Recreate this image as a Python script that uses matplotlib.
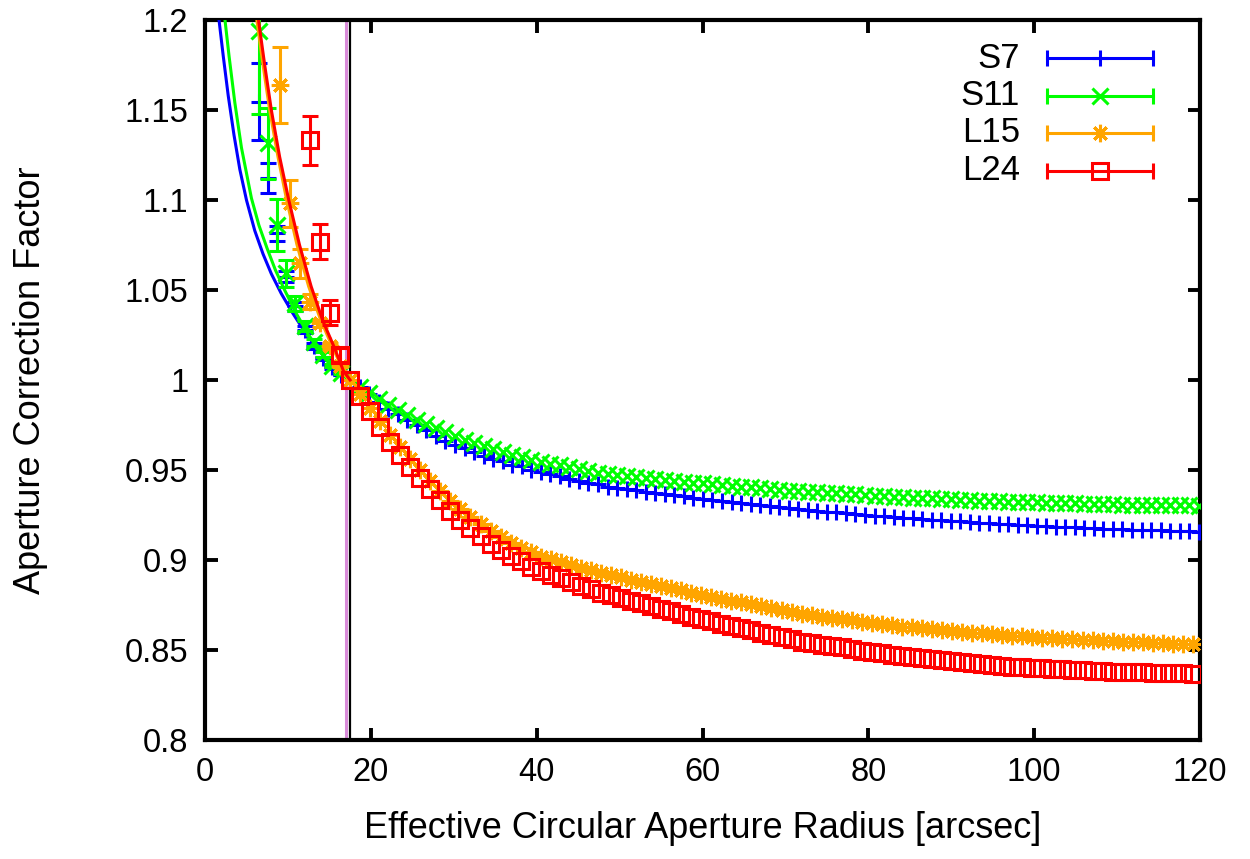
import numpy as np
import matplotlib
matplotlib.use("Agg")
import matplotlib.pyplot as plt

plt.rcParams['font.family'] = ['Liberation Sans', 'DejaVu Sans']

# ---------------- data ----------------
series_names = ["S7", "S11", "L15", "L24"]
series_colors = ["#0000ff", "#00ff00", "#ffa500", "#ff0000"]

# x grids (effective radius, arcsec)
x_left_S = [6.5, 7.6, 8.7, 9.8, 10.9, 12.0, 13.1, 14.2, 15.3, 16.4]
x_right_S_start, x_right_S_step = 17.5, 1.15
x_left_L15 = [9.03, 10.24, 11.45, 12.66, 13.87, 15.08, 16.29]
x_left_L24 = [12.66, 13.87, 15.08, 16.29]
x_right_L_start, x_right_L_step = 17.5, 1.21

# points inside the normalisation radius (with error bars)
S7_left = [1.1546, 1.112, 1.0815, 1.0574, 1.041, 1.028, 1.019, 1.012, 1.007, 1.003]
S7_left_err = [0.0213, 0.0083, 0.0042, 0.003, 0.0025, 0.002, 0.0015, 0.001, 0.001, 0.0005]
S11_left = [1.194, 1.1315, 1.086, 1.0593, 1.0426, 1.030, 1.021, 1.014, 1.008, 1.004]
S11_left_err = [0.046, 0.0197, 0.0145, 0.0074, 0.004, 0.003, 0.002, 0.0015, 0.001, 0.0005]
L15_left = [1.1639, 1.0981, 1.0648, 1.0435, 1.0315, 1.019, 1.008]
L15_left_err = [0.0209, 0.013, 0.0079, 0.004, 0.002, 0.0015, 0.001]
L24_left = [1.1333, 1.0769, 1.0374, 1.0139]
L24_left_err = [0.0136, 0.0095, 0.0069, 0.004]

# points from the normalisation radius outwards
S7_right = [1.000, 0.996, 0.992, 0.988, 0.984, 0.981, 0.978, 0.975, 0.972, 0.969,
            0.966, 0.964, 0.962, 0.960, 0.958, 0.956, 0.955, 0.953, 0.952, 0.950,
            0.949, 0.948, 0.9465, 0.945, 0.944, 0.943, 0.942, 0.9407, 0.9400, 0.9393,
            0.9387, 0.9380, 0.9373, 0.9367, 0.9360, 0.9353, 0.9347, 0.9340, 0.9334, 0.9328,
            0.9323, 0.9317, 0.9311, 0.9305, 0.9300, 0.9294, 0.9288, 0.9282, 0.9277, 0.9273,
            0.9269, 0.9264, 0.9260, 0.9256, 0.9252, 0.9247, 0.9243, 0.9239, 0.9234, 0.9231,
            0.9228, 0.9224, 0.9221, 0.9218, 0.9214, 0.9211, 0.9208, 0.9204, 0.9201, 0.9198,
            0.9196, 0.9193, 0.9191, 0.9189, 0.9186, 0.9184, 0.9181, 0.9179, 0.9176, 0.9174,
            0.9173, 0.9171, 0.9169, 0.9168, 0.9166, 0.9164, 0.9162, 0.9161, 0.9159, 0.9157]
S11_right = [1.000, 0.9963, 0.9926, 0.9893, 0.9861, 0.9832, 0.9804, 0.9779, 0.9756, 0.9733,
             0.9710, 0.9688, 0.9669, 0.9651, 0.9632, 0.9614, 0.9599, 0.9585, 0.9572, 0.9558,
             0.9546, 0.9536, 0.9526, 0.9515, 0.9505, 0.9495, 0.9485, 0.9477, 0.9472, 0.9467,
             0.9462, 0.9456, 0.9451, 0.9446, 0.9440, 0.9435, 0.9430, 0.9425, 0.9421, 0.9416,
             0.9412, 0.9408, 0.9403, 0.9399, 0.9395, 0.9390, 0.9386, 0.9382, 0.9378, 0.9375,
             0.9373, 0.9370, 0.9367, 0.9364, 0.9361, 0.9358, 0.9355, 0.9352, 0.9350, 0.9347,
             0.9345, 0.9342, 0.9340, 0.9338, 0.9335, 0.9333, 0.9330, 0.9328, 0.9326, 0.9324,
             0.9322, 0.9321, 0.9320, 0.9318, 0.9317, 0.9315, 0.9314, 0.9312, 0.9311, 0.9310,
             0.9309, 0.9308, 0.9307, 0.9307, 0.9306, 0.9305, 0.9304, 0.9303, 0.9303, 0.9302]
L15_right = [1.000, 0.9923, 0.9845, 0.9770, 0.9695, 0.9628, 0.9563, 0.9500, 0.9437, 0.9381,
             0.9328, 0.9282, 0.9241, 0.9200, 0.9159, 0.9125, 0.9097, 0.9069, 0.9042, 0.9019,
             0.9004, 0.8989, 0.8974, 0.8958, 0.8943, 0.8928, 0.8915, 0.8903, 0.8891, 0.8879,
             0.8867, 0.8855, 0.8843, 0.8831, 0.8819, 0.8807, 0.8796, 0.8785, 0.8775, 0.8764,
             0.8753, 0.8743, 0.8732, 0.8722, 0.8711, 0.8700, 0.8693, 0.8686, 0.8679, 0.8672,
             0.8665, 0.8658, 0.8651, 0.8644, 0.8637, 0.8630, 0.8625, 0.8620, 0.8616, 0.8611,
             0.8606, 0.8601, 0.8597, 0.8592, 0.8587, 0.8583, 0.8579, 0.8576, 0.8573, 0.8569,
             0.8566, 0.8563, 0.8559, 0.8556, 0.8553, 0.8550, 0.8548, 0.8546, 0.8544, 0.8542,
             0.8540, 0.8537, 0.8535, 0.8533, 0.8531]
L24_right = [1.000, 0.9913, 0.9826, 0.9741, 0.9656, 0.9586, 0.9518, 0.9455, 0.9392, 0.9331,
             0.9270, 0.9221, 0.9177, 0.9134, 0.9090, 0.9054, 0.9024, 0.8993, 0.8963, 0.8937,
             0.8917, 0.8898, 0.8878, 0.8858, 0.8839, 0.8819, 0.8803, 0.8789, 0.8774, 0.8759,
             0.8745, 0.8730, 0.8716, 0.8701, 0.8686, 0.8672, 0.8659, 0.8647, 0.8634, 0.8622,
             0.8609, 0.8597, 0.8584, 0.8572, 0.8559, 0.8547, 0.8538, 0.8530, 0.8522, 0.8514,
             0.8506, 0.8497, 0.8489, 0.8481, 0.8473, 0.8465, 0.8459, 0.8454, 0.8448, 0.8443,
             0.8437, 0.8432, 0.8426, 0.8420, 0.8415, 0.8410, 0.8407, 0.8404, 0.8401, 0.8398,
             0.8396, 0.8393, 0.8390, 0.8387, 0.8384, 0.8382, 0.8380, 0.8379, 0.8377, 0.8376,
             0.8374, 0.8373, 0.8371, 0.8370, 0.8369]

# model curves inside the normalisation radius
S7_fit_x = [1.69, 2.2, 2.8, 3.5, 4.2, 5.0, 6.0, 7.0, 8.0, 9.2, 10.6, 12.0, 13.6, 15.5, 17.5]
S7_fit_y = [1.200, 1.180, 1.158, 1.136, 1.117, 1.100, 1.083, 1.070, 1.059, 1.048, 1.037, 1.027, 1.017, 1.008, 1.000]
S11_fit_x = [2.41, 2.9, 3.6, 4.4, 5.6, 6.5, 7.5, 8.5, 9.6, 11.0, 12.5, 14.0, 15.7, 17.5]
S11_fit_y = [1.200, 1.180, 1.154, 1.129, 1.101, 1.086, 1.073, 1.061, 1.050, 1.037, 1.025, 1.015, 1.007, 1.000]
L15_fit_x = [6.25, 7.0, 7.8, 8.8, 9.85, 11.1, 12.5, 13.9, 15.3, 16.4, 17.5]
L15_fit_y = [1.200, 1.175, 1.150, 1.124, 1.100, 1.075, 1.052, 1.034, 1.019, 1.008, 1.000]
L24_fit_x = [6.45, 7.2, 8.0, 9.0, 10.1, 11.4, 12.8, 14.2, 15.6, 16.7, 17.5]
L24_fit_y = [1.200, 1.175, 1.150, 1.124, 1.100, 1.075, 1.052, 1.033, 1.018, 1.005, 1.000]

norm_radius_black = 17.45
norm_radius_violet = 17.05

xticks = [0, 20, 40, 60, 80, 100, 120]
yticks = [0.8, 0.85, 0.9, 0.95, 1.0, 1.05, 1.1, 1.15, 1.2]
ytick_labels = ["0.8", "0.85", "0.9", "0.95", "1", "1.05", "1.1", "1.15", "1.2"]

# ---------------- plot ----------------
fig = plt.figure(figsize=(12.5, 8.59), dpi=100)
ax = fig.add_axes([205 / 1250, 1 - 740 / 859, 995 / 1250, 720 / 859])

ax.axvline(norm_radius_violet, color="#d98bd9", lw=2.2, zorder=1)
ax.axvline(norm_radius_black, color="black", lw=1.6, zorder=1)

asterisk = (8, 2, 0)
markers = ["+", "x", asterisk, "s"]
msizes = [12, 11.5, 12.5, 11.5]

lefts = [(x_left_S, S7_left, S7_left_err), (x_left_S, S11_left, S11_left_err),
         (x_left_L15, L15_left, L15_left_err), (x_left_L24, L24_left, L24_left_err)]
rights = [S7_right, S11_right, L15_right, L24_right]
grids = [(x_right_S_start, x_right_S_step), (x_right_S_start, x_right_S_step),
         (x_right_L_start, x_right_L_step), (x_right_L_start, x_right_L_step)]
fits = [(S7_fit_x, S7_fit_y), (S11_fit_x, S11_fit_y), (L15_fit_x, L15_fit_y), (L24_fit_x, L24_fit_y)]

for i in range(4):
    c = series_colors[i]
    xl, yl, el = lefts[i]
    start, step = grids[i]
    yr = rights[i]
    xr = start + step * np.arange(len(yr))
    z = 3 + i
    ax.errorbar(xl, yl, yerr=el, fmt="none", ecolor=c, elinewidth=2.2,
                capsize=5.5, capthick=2.2, zorder=z)
    ax.plot(xl, yl, ls="none", marker=markers[i], ms=msizes[i], mew=2.2,
            color=c, mfc="none", zorder=z)
    ax.plot(xr, yr, ls="none", marker=markers[i], ms=msizes[i], mew=2.2,
            color=c, mfc="none", zorder=z)
    fx, fy = fits[i]
    ax.plot(fx, fy, color=c, lw=2.2, zorder=z)

ax.set_xlim(0, 120)
ax.set_ylim(0.8, 1.2)
ax.set_xticks(xticks)
ax.set_xticklabels([str(t) for t in xticks])
ax.set_yticks(yticks)
ax.set_yticklabels(ytick_labels)

ax.tick_params(direction="in", length=9, width=2.8, top=True, right=True,
               labelsize=23.5, pad=12)
for s in ax.spines.values():
    s.set_linewidth(3.0)

ax.set_xlabel("Effective Circular Aperture Radius [arcsec]", fontsize=26)
ax.set_ylabel("Aperture Correction Factor", fontsize=26)
ax.xaxis.set_label_coords(0.5, -0.098)
ax.yaxis.set_label_coords(-0.158, 0.5)

# key (gnuplot style: text right-aligned, horizontal errorbar sample)
x_text = (1020 - 205) / 995
x0 = (1047 - 205) / 995
x1 = (1153 - 205) / 995
xm = (x0 + x1) / 2
for i, name in enumerate(series_names):
    ypx = 58 + 37.5 * i
    yf = 1 - (ypx - 20) / 720
    c = series_colors[i]
    ax.text(x_text, yf, name, transform=ax.transAxes, ha="right", va="center",
            fontsize=25)
    ax.plot([x0, x1], [yf, yf], color=c, lw=2.2, transform=ax.transAxes, zorder=10)
    ax.plot([x0, x1], [yf, yf], ls="none", marker="|", ms=11, mew=2.2, color=c,
            transform=ax.transAxes, zorder=10)
    ax.plot([xm], [yf], ls="none", marker=markers[i], ms=msizes[i], mew=2.2,
            color=c, mfc="none", transform=ax.transAxes, zorder=10)

fig.savefig("out.png", dpi=100)
